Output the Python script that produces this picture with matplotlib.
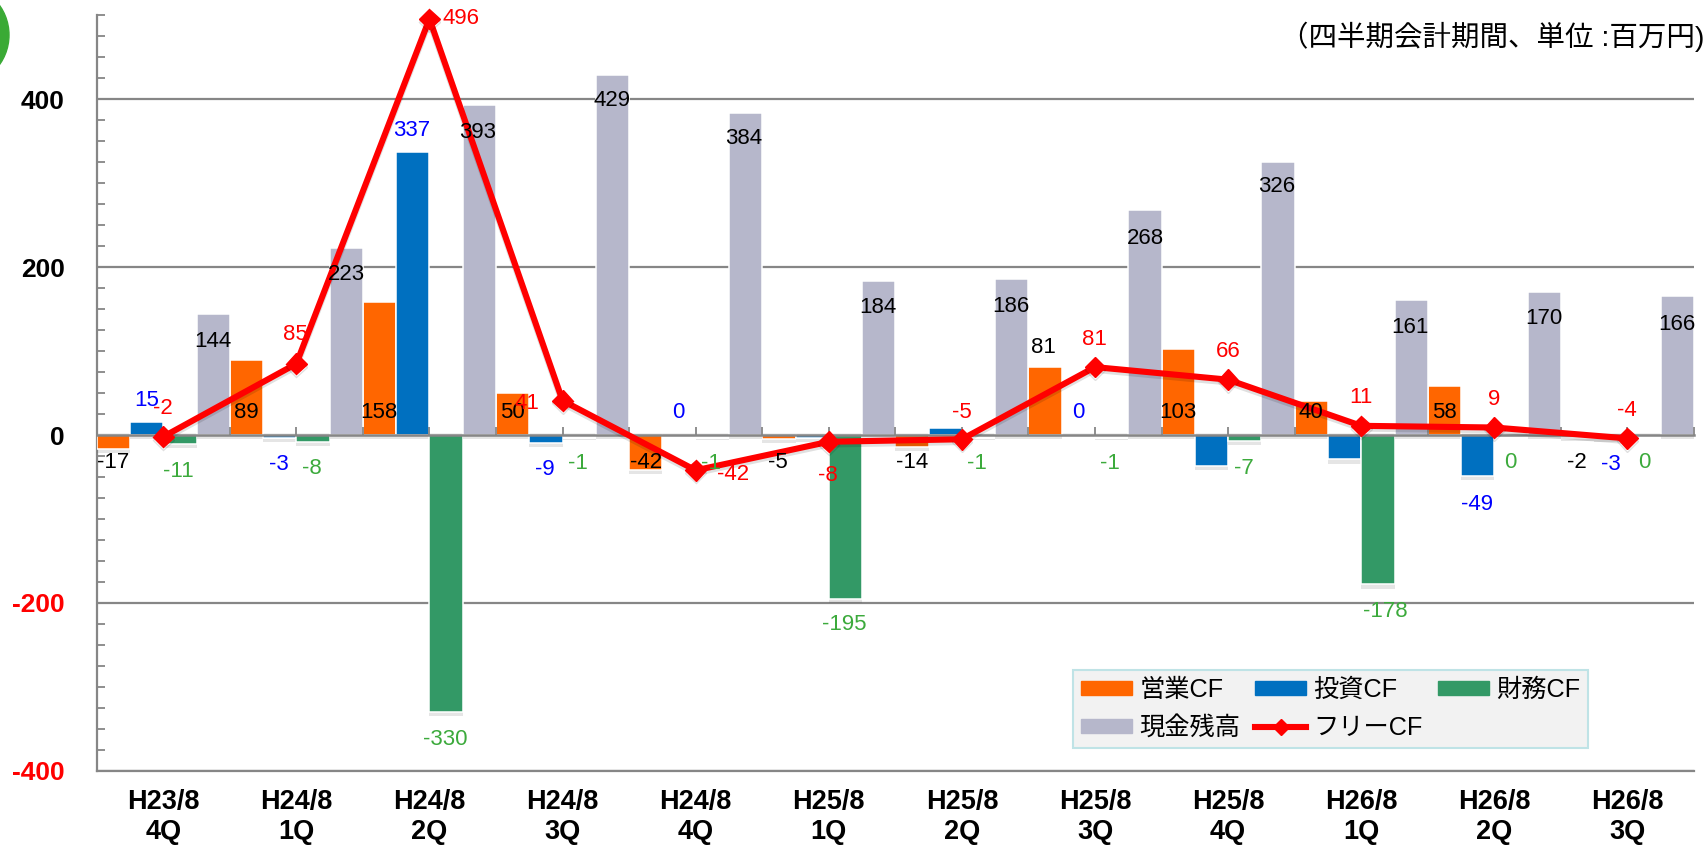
import matplotlib
matplotlib.use("Agg")
import matplotlib.pyplot as plt
import matplotlib.patheffects as pe
from matplotlib.lines import Line2D
from matplotlib.patches import Circle, Patch
from matplotlib.ticker import MultipleLocator
from matplotlib.transforms import IdentityTransform
import numpy as np

W, H = 1706, 847
plt.rcParams["font.family"] = ["Liberation Sans", "Noto Sans CJK JP", "DejaVu Sans"]

periods = ["H23/8\n4Q", "H24/8\n1Q", "H24/8\n2Q", "H24/8\n3Q", "H24/8\n4Q", "H25/8\n1Q",
           "H25/8\n2Q", "H25/8\n3Q", "H25/8\n4Q", "H26/8\n1Q", "H26/8\n2Q", "H26/8\n3Q"]
operating = [-17, 89, 158, 50, -42, -5, -14, 81, 103, 40, 58, -2]
investing = [15, -3, 337, -9, 0, -3, 9, 0, -37, -29, -49, -3]
financing = [-11, -8, -330, -1, -1, -195, -1, -1, -7, -178, 0, 0]
cash = [144, 223, 393, 429, 384, 184, 186, 268, 326, 161, 170, 166]
free_cf = [-2, 85, 496, 41, -42, -8, -5, 81, 66, 11, 9, -4]

# where the labels sit, in picture pixels (None = no label in the original)
operating_pos = [(113, 461), (246, 412), (379, 412), (512, 412), (646, 461), (778, 461),
                 (912, 461), (1043, 346), (1178, 412), (1311, 412), (1444, 412), (1577, 461)]
investing_pos = [(147, 400), (279, 463), (412, 129), (545, 468), (678, 412), None,
                 None, (1078, 412), None, None, (1477, 503), (1611, 463)]
financing_pos = [(178, 470), (312, 467), (445, 738), (578, 462), (711, 462), (844, 623),
                 (977, 462), (1110, 462), (1244, 467), (1385, 610), (1510, 461), (1644, 461)]
cash_pos = [(213, 340), (346, 274), (478, 131), (612, 100), (744, 138), (878, 306),
            (1011, 305), (1145, 237), (1277, 186), (1410, 326), (1544, 318), (1677, 324)]
free_pos = [(163, 407), (295, 334), (461, 18), (527, 402), (733, 473), (828, 474),
            (962, 411), (1094, 338), (1228, 350), (1361, 396), (1494, 398), (1627, 409)]

ORANGE = "#FF6600"
BLUE = "#0070C0"
GREEN = "#339966"
GREY = "#B6B7CB"
AXIS = "#868686"

fig = plt.figure(figsize=(W / 100, H / 100), dpi=100)
ax = fig.add_axes([96.7 / W, 1 - 770.7 / H, (1694 - 96.7) / W, (770.7 - 15.5) / H])

x = np.arange(12)
bar_w = 0.25
shadow = [pe.SimplePatchShadow(offset=(0, -3), shadow_rgbFace="#555555", alpha=0.15), pe.Normal()]
for i, (vals, col) in enumerate([(operating, ORANGE), (investing, BLUE), (financing, GREEN), (cash, GREY)]):
    bars = ax.bar(x + (i - 1.5) * bar_w, vals, bar_w, color=col, edgecolor="white", linewidth=1.1, zorder=3)
    for b in bars:
        b.set_path_effects(shadow)

ax.plot(x, free_cf, color="#FF0000", lw=4.4, marker="D", ms=10.5, mec="#FF0000", zorder=5,
        solid_joinstyle="miter", clip_on=False,
        path_effects=[pe.SimpleLineShadow(offset=(0, -2), alpha=0.12), pe.Normal()])

ax.set_xlim(-0.5, 11.5)
ax.set_ylim(-400, 500)
ax.yaxis.set_minor_locator(MultipleLocator(25))
ax.set_yticks([-400, -200, 0, 200, 400])
ax.set_yticklabels(["-400", "-200", "0", "200", "400"], fontsize=19, fontweight="bold")
for lab, c in zip(ax.get_yticklabels(), ["#FF0000", "#FF0000", "black", "black", "black"]):
    lab.set_color(c)
ax.tick_params(axis="y", which="major", direction="in", length=6, width=1.3, color=AXIS, pad=23)
ax.tick_params(axis="y", which="minor", direction="in", length=6, width=1.3, color=AXIS)
ax.set_xticks(x)
ax.set_xticklabels(periods, fontsize=19.5, fontweight="bold", linespacing=1.2)
ax.tick_params(axis="x", length=0, pad=13)
ax.grid(axis="y", which="major", color=AXIS, lw=1.6, zorder=1)
ax.set_axisbelow(True)
for s in ["top", "right"]:
    ax.spines[s].set_visible(False)
for s in ["left", "bottom"]:
    ax.spines[s].set_color(AXIS)
    ax.spines[s].set_linewidth(1.6)

# zero line with the small ticks every half period
zero_axis = ax.secondary_xaxis(0, transform=ax.transData)
zero_axis.set_xticks(np.arange(-0.5, 11.6, 0.5))
zero_axis.set_xticklabels([])
zero_axis.tick_params(direction="in", length=6, width=1.3, color=AXIS)
zero_axis.spines["bottom"].set_color(AXIS)
zero_axis.spines["bottom"].set_linewidth(1.8)
zero_axis.set_zorder(4)


def put_labels(vals, pos, col):
    for v, p in zip(vals, pos):
        if p is None:
            continue
        fig.text(p[0] / W, 1 - (p[1] + 1) / H, str(v), color=col, fontsize=16,
                 ha="center", va="center", zorder=10)


put_labels(operating, operating_pos, "black")
put_labels(cash, cash_pos, "black")
put_labels(investing, investing_pos, "#0000FF")
put_labels(financing, financing_pos, "#3CAA3C")
put_labels(free_cf, free_pos, "#FF0000")

fig.text(1704 / W, 1 - 37 / H, "（四半期会計期間、単位 :百万円)", fontsize=20.5, ha="right", va="center")

fig.add_artist(Circle((-42, H - 35), 51, color="#3AAA35", transform=IdentityTransform()))

handles = [Patch(color=ORANGE), Patch(color=GREY), Patch(color=BLUE),
           Line2D([], [], color="#FF0000", lw=4.4, marker="D", ms=8), Patch(color=GREEN)]
names = ["営業CF", "現金残高", "投資CF", "フリーCF", "財務CF"]
leg = ax.legend(handles, names, ncol=3, fontsize=18.2, loc="lower left",
                bbox_to_anchor=(1073 / W, 1 - 748 / H), bbox_transform=fig.transFigure,
                fancybox=False, facecolor="#F2F2F2", edgecolor="#BFE3E6", framealpha=1,
                handlelength=2, handleheight=0.45, handletextpad=0.3, columnspacing=0.6,
                labelspacing=0.55, borderpad=0.32, borderaxespad=0)
leg.set_zorder(8)
leg.get_frame().set_linewidth(1.5)

fig.savefig("out.png", dpi=100)
